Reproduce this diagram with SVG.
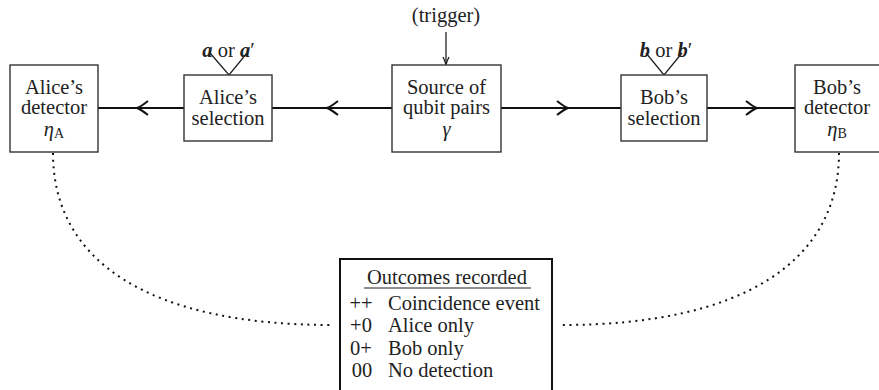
<svg xmlns="http://www.w3.org/2000/svg" width="879" height="390" viewBox="0 0 879 390">
<style>
text{font-family:"Liberation Serif","Times New Roman","DejaVu Serif",serif;font-size:20.5px;fill:#222;text-anchor:middle}
.box{fill:#fff;stroke:#333;stroke-width:1.4}
.obox{fill:#fff;stroke:#111;stroke-width:2}
.ln{fill:none;stroke:#111;stroke-width:2}
.thin{fill:none;stroke:#222;stroke-width:1.3}
.dot{fill:none;stroke:#111;stroke-width:2;stroke-dasharray:2 4.6}
.bi{font-weight:bold;font-style:italic}
.it{font-style:italic}
.sub{font-size:14px}
.l{text-anchor:start}
</style>
<g id="connectors">
<line class="ln" x1="98" y1="108" x2="184" y2="108"/>
<line class="ln" x1="272" y1="108" x2="392" y2="108"/>
<line class="ln" x1="501" y1="108" x2="621" y2="108"/>
<line class="ln" x1="707" y1="108" x2="795" y2="108"/>
<path class="ln" d="M148,101 Q141,106.5 137,108 Q141,109.5 148,115"/>
<path class="ln" d="M338,101 Q331,106.5 327,108 Q331,109.5 338,115"/>
<path class="ln" d="M557,101 Q564,106.5 568,108 Q564,109.5 557,115"/>
<path class="ln" d="M746,101 Q753,106.5 757,108 Q753,109.5 746,115"/>
<line class="thin" x1="446" y1="32" x2="446" y2="64"/>
<path class="thin" d="M443,57 Q445,61 446,64.5 Q447,61 449,57"/>
<path class="thin" d="M210,53 L229,75 L247,53"/>
<path class="thin" d="M646,53 L664,75 L682,53"/>
<path class="dot" d="M53,153 C53,262 150,325 332,325"/>
<path class="dot" d="M839,153 C839,262 742,325 562,325"/>
</g>
<g id="alice-detector">
<rect class="box" x="10" y="65" width="88" height="87"/>
<text x="54" y="94">Alice’s</text>
<text x="54" y="114">detector</text>
<text x="54" y="136"><tspan class="it">η</tspan><tspan class="sub" dy="2">A</tspan></text>
</g>
<g id="alice-selection">
<rect class="box" x="184" y="75" width="88" height="66"/>
<text x="228" y="104">Alice’s</text>
<text x="228" y="125">selection</text>
<text x="228.5" y="57"><tspan class="bi">a</tspan> or <tspan class="bi">a</tspan>′</text>
</g>
<g id="source">
<rect class="box" x="392" y="65" width="109" height="87"/>
<text x="446.5" y="94">Source of</text>
<text x="446.5" y="114">qubit pairs</text>
<text x="446.5" y="136" class="it">γ</text>
<text x="446" y="22">(trigger)</text>
</g>
<g id="bob-selection">
<rect class="box" x="621" y="75" width="86" height="66"/>
<text x="664" y="104">Bob’s</text>
<text x="664" y="125">selection</text>
<text x="666" y="57"><tspan class="bi">b</tspan> or <tspan class="bi">b</tspan>′</text>
</g>
<g id="bob-detector">
<rect class="box" x="795" y="65" width="90" height="87"/>
<text x="837" y="94">Bob’s</text>
<text x="837" y="114">detector</text>
<text x="837" y="136"><tspan class="it">η</tspan><tspan class="sub" dy="2">B</tspan></text>
</g>
<g id="outcomes">
<rect class="obox" x="340" y="259" width="212" height="140"/>
<text x="447" y="284">Outcomes recorded</text>
<line x1="364" y1="288" x2="531" y2="288" stroke="#222" stroke-width="1.2"/>
<text x="361" y="310">++</text>
<text x="388" y="310" class="l">Coincidence event</text>
<text x="361" y="332">+0</text>
<text x="388" y="332" class="l">Alice only</text>
<text x="361" y="355">0+</text>
<text x="388" y="355" class="l">Bob only</text>
<text x="362" y="377">00</text>
<text x="388" y="377" class="l">No detection</text>
</g>
</svg>
